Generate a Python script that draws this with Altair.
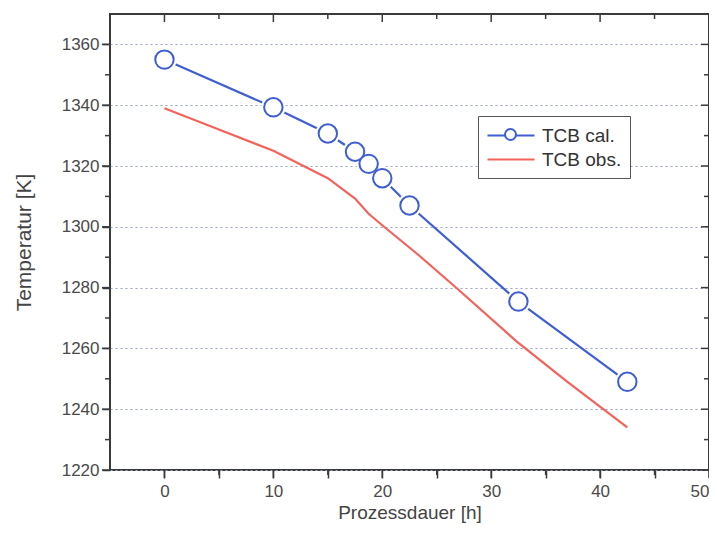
import altair as alt
import pandas as pd

series_names = ["TCB cal.", "TCB obs."]

cal_x = [0, 10, 15, 17.5, 18.75, 20, 22.5, 32.5, 42.5]
cal_y = [1355, 1339.3, 1330.7, 1324.7, 1320.7, 1316, 1307, 1275.4, 1249]

obs_x = [0, 5, 10, 12.5, 15, 17.5, 18.75, 20, 23.3, 27, 32.3, 37, 42.5]
obs_y = [1339, 1332, 1325, 1320.5, 1316, 1309.3, 1304.3, 1300.5, 1290.8, 1279.3, 1262.4, 1249, 1234]

x_major = [0, 10, 20, 30, 40, 50]
x_minor = [5, 15, 25, 35, 45]
y_major = [1220, 1240, 1260, 1280, 1300, 1320, 1340, 1360]
y_minor = [1230, 1250, 1270, 1290, 1310, 1330, 1350]

colors = ["#3f5ed2", "#f4625c"]

cal = pd.DataFrame({"x": cal_x, "y": cal_y, "series": series_names[0], "order": range(len(cal_x))})
obs = pd.DataFrame({"x": obs_x, "y": obs_y, "series": series_names[1], "order": range(len(obs_x))})
df = pd.concat([cal, obs], ignore_index=True)

W, H = 599, 456
MAJ, MIN = 8, 5
FONT = "Liberation Sans"
AX = "#3a3a3a"
xs = alt.Scale(domain=[-5, 50], nice=False, zero=False)
ys = alt.Scale(domain=[1220, 1370], nice=False, zero=False)
color_scale = alt.Scale(domain=series_names, range=colors)

x_axis = alt.Axis(
    values=x_major + x_minor,
    labelExpr="datum.value % 10 === 0 ? datum.label : ''",
    tickSize=MAJ, tickColor=AX, tickWidth=1.5, domain=False,
    labelFont=FONT, labelFontSize=17, labelColor="#4a4a4a", labelPadding=5,
    title="Prozessdauer [h]", titleFont=FONT, titleFontSize=19, titleFontWeight="normal",
    titleColor="#444", titlePadding=4, grid=False,
)
y_axis = alt.Axis(
    values=y_major + y_minor, format="d",
    labelExpr="datum.value % 20 === 0 ? datum.label : ''",
    tickSize=MAJ, tickColor=AX, tickWidth=1.5, domain=False,
    labelFont=FONT, labelFontSize=17, labelColor="#4a4a4a", labelPadding=3,
    title="Temperatur [K]", titleFont=FONT, titleFontSize=21, titleFontWeight="normal",
    titleColor="#444", titlePadding=27,
    grid=True, gridDash=[2, 3], gridColor="#97a2c4", gridWidth=1,
    gridOpacity={"condition": {"test": "datum.value % 20 === 0", "value": 1}, "value": 0},
)

legend_a = alt.Legend(
    orient="none", legendX=368, legendY=102, title=None,
    symbolType="M-1,0H3.7", symbolSize=400, symbolStrokeWidth=2.2,
    labelFont=FONT, labelFontSize=19, labelColor="#333", labelOffset=33,
    strokeColor="#555", fillColor="white", padding=8, rowPadding=2,
)
legend_b = alt.Legend(
    orient="none", legendX=394, legendY=114, title=None, zindex=2,
    symbolType="circle", symbolSize=121, symbolStrokeWidth=2, symbolFillColor="white",
    labelExpr="''", labelFontSize=1, padding=0,
)

lines = alt.Chart(df).mark_line(strokeWidth=2.2).encode(
    x=alt.X("x:Q", scale=xs, axis=x_axis),
    y=alt.Y("y:Q", scale=ys, axis=y_axis),
    color=alt.Color("series:N", scale=color_scale, legend=legend_a),
    detail="series:N",
    order="order:Q",
)

halo = alt.Chart(cal).mark_point(shape="circle", filled=True, color="white", size=600, opacity=1).encode(
    x=alt.X("x:Q", scale=xs),
    y=alt.Y("y:Q", scale=ys),
)

circles = alt.Chart(cal).mark_point(
    shape="circle", filled=False, fill="white", strokeWidth=2, size=340, opacity=1
).encode(
    x=alt.X("x:Q", scale=xs),
    y=alt.Y("y:Q", scale=ys),
    stroke=alt.Stroke("series:N", scale=alt.Scale(domain=[series_names[0]], range=[colors[0]]), legend=legend_b),
)

# axis-frame tick marks (major / minor) on all four sides
def xticks(vals, y0, y1):
    return alt.Chart(pd.DataFrame({"v": vals})).mark_rule(color=AX, strokeWidth=1.5).encode(
        x=alt.X("v:Q", scale=xs), y=alt.value(y0), y2=alt.value(y1))

def yticks(vals, x0, x1):
    return alt.Chart(pd.DataFrame({"v": vals})).mark_rule(color=AX, strokeWidth=1.5).encode(
        y=alt.Y("v:Q", scale=ys), x=alt.value(x0), x2=alt.value(x1))

tick_layers = [
    xticks(x_major, H, H + MAJ), xticks(x_minor, H, H + MIN),
    xticks(x_major, 0, MAJ), xticks(x_minor, 0, MIN),
    yticks(y_major, -MAJ, 0), yticks(y_minor, -MIN, 0),
    yticks(y_major, W - MAJ, W), yticks(y_minor, W - MIN, W),
]

chart = alt.layer(lines, halo, circles, *tick_layers).properties(
    width=W, height=H,
    autosize=alt.AutoSizeParams(type="none"),
    padding={"left": 102, "top": 6, "right": 0, "bottom": 55},
    background="white",
).configure_view(stroke=AX, strokeWidth=2)

chart.save("out.html", embed_options={"renderer": "svg", "actions": False})
